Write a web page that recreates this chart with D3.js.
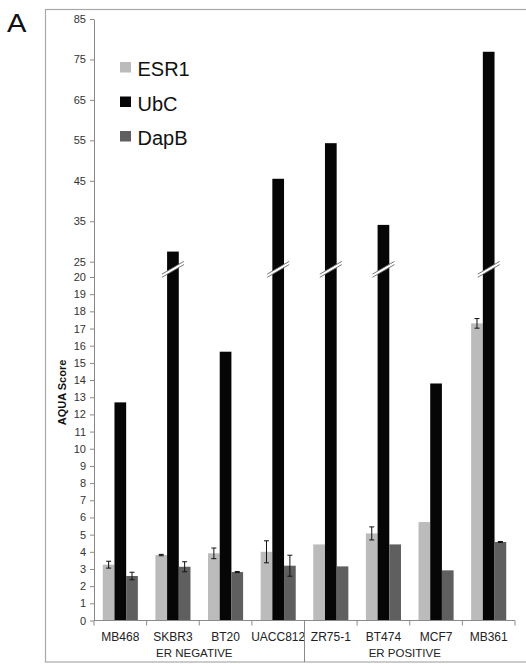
<!DOCTYPE html>
<html>
<head>
<meta charset="utf-8">
<script src="https://cdn.jsdelivr.net/npm/d3@7/dist/d3.min.js"></script>
<style>
  html, body { margin: 0; padding: 0; background: #fff; }
  svg { display: block; font-family: "Liberation Sans", Arial, sans-serif; }
</style>
</head>
<body>
<svg id="chart" width="526" height="664"></svg>
<script>
// Cell lines, grouped by ER status
const cellLines = ["MB468", "SKBR3", "BT20", "UACC812", "ZR75-1", "BT474", "MCF7", "MB361"];
const groups = ["ER NEGATIVE", "ER POSITIVE"];
const groupSizes = [4, 4];

const seriesNames = ["ESR1", "UbC", "DapB"];
const esr1 = [3.25, 3.81, 3.91, 4.0, 4.43, 5.07, 5.73, 17.3];
const esr1Err = [0.2, 0.04, 0.31, 0.64, 0, 0.38, 0, 0.28];
const ubc = [12.7, 27.5, 15.65, 45.5, 54.3, 34.1, 13.8, 76.9];
const ubcErr = [0, 0, 0, 0, 0, 0, 0, 0];
const dapb = [2.59, 3.13, 2.82, 3.19, 3.15, 4.43, 2.92, 4.57];
const dapbErr = [0.22, 0.29, 0.03, 0.61, 0, 0, 0, 0.03];

const yTicks = [0,1,2,3,4,5,6,7,8,9,10,11,12,13,14,15,16,17,18,19,20,25,35,45,55,65,75,85];
const yBreak = [20, 25];   // compressed section of the value axis

const colors = { ESR1: "#bbbbbb", UbC: "#060606", DapB: "#5f5f5f" };

const svg = d3.select("#chart");

// Outer frame and panel letter
svg.append("rect")
  .attr("x", 45.5).attr("y", 9.5).attr("width", 520).attr("height", 652.5)
  .attr("fill", "none").attr("stroke", "#a9a9a9").attr("stroke-width", 1.2);

svg.append("text")
  .attr("x", 7).attr("y", 32)
  .attr("font-size", 26).attr("fill", "#111")
  .attr("transform", "translate(7,0) scale(1.12,1) translate(-7,0)")
  .text("A");

const plot = { left: 94, right: 515, top: 19, bottom: 620.5 };

// Broken value axis: 0–20 at full scale, 20–25 squeezed, 25–85 compressed
const y = d3.scaleLinear()
  .domain([0, yBreak[0], yBreak[1], 85])
  .range([plot.bottom, 277, 261.7, plot.top]);

const x0 = d3.scaleBand().domain(cellLines).range([plot.left, plot.right]).padding(0);
const x1 = d3.scaleBand().domain(seriesNames).range([0, x0.bandwidth()])
  .paddingInner(0).paddingOuter(0.75);

const data = cellLines.map((c, i) => ({
  line: c,
  values: [
    { s: "ESR1", v: esr1[i], e: esr1Err[i] },
    { s: "UbC", v: ubc[i], e: ubcErr[i] },
    { s: "DapB", v: dapb[i], e: dapbErr[i] }
  ]
}));

// Y axis
const yAxis = d3.axisLeft(y).tickValues(yTicks).tickFormat(d3.format("d"))
  .tickSizeInner(4).tickSizeOuter(0).tickPadding(4);
const gy = svg.append("g").attr("transform", `translate(${plot.left},0)`).call(yAxis);
gy.select(".domain").attr("stroke", "#8a8a8a");
gy.selectAll(".tick line").attr("stroke", "#8a8a8a");
gy.selectAll(".tick text").attr("font-size", 11).attr("fill", "#333")
  .attr("font-family", "Liberation Sans, Arial, sans-serif");

svg.append("text")
  .attr("transform", `translate(66,392.5) rotate(-90)`)
  .attr("text-anchor", "middle")
  .attr("font-size", 11).attr("font-weight", "bold").attr("fill", "#111")
  .text("AQUA Score");

// Bars
const gBars = svg.append("g");
const groupG = gBars.selectAll("g.cat").data(data).join("g")
  .attr("class", "cat")
  .attr("transform", d => `translate(${x0(d.line)},0)`);

groupG.selectAll("rect").data(d => d.values).join("rect")
  .attr("x", d => x1(d.s))
  .attr("y", d => y(d.v))
  .attr("width", x1.bandwidth())
  .attr("height", d => y(0) - y(d.v))
  .attr("fill", d => colors[d.s]);

// Error bars
const errs = groupG.selectAll("g.err").data(d => d.values.filter(v => v.e > 0)).join("g")
  .attr("class", "err")
  .attr("stroke", "#111").attr("stroke-width", 1);
errs.append("line")
  .attr("x1", d => x1(d.s) + x1.bandwidth() / 2).attr("x2", d => x1(d.s) + x1.bandwidth() / 2)
  .attr("y1", d => y(d.v + d.e)).attr("y2", d => y(d.v - d.e));
errs.append("line")
  .attr("x1", d => x1(d.s) + x1.bandwidth() / 2 - 2.5).attr("x2", d => x1(d.s) + x1.bandwidth() / 2 + 2.5)
  .attr("y1", d => y(d.v + d.e)).attr("y2", d => y(d.v + d.e));
errs.append("line")
  .attr("x1", d => x1(d.s) + x1.bandwidth() / 2 - 2.5).attr("x2", d => x1(d.s) + x1.bandwidth() / 2 + 2.5)
  .attr("y1", d => y(d.v - d.e)).attr("y2", d => y(d.v - d.e));

// Break marks on bars that run past the axis break
const breakY = y((yBreak[0] + yBreak[1]) / 2);
const broken = data.map(d => d.values.filter(v => v.v > yBreak[1]).map(v => ({ line: d.line, s: v.s })))
  .flat();
const bm = svg.append("g").selectAll("g").data(broken).join("g")
  .attr("transform", d => `translate(${x0(d.line) + x1(d.s) + x1.bandwidth() / 2},${breakY})`);
const half = 11, slope = 0.58, gap = 3.2;
bm.append("path")
  .attr("d", `M${-half},${half * slope - gap / 2} L${half},${-half * slope - gap / 2} L${half},${-half * slope + gap / 2} L${-half},${half * slope + gap / 2} Z`)
  .attr("fill", "#fff");
[-gap / 2, gap / 2].forEach(o => {
  bm.append("line")
    .attr("x1", -half).attr("y1", half * slope + o)
    .attr("x2", half).attr("y2", -half * slope + o)
    .attr("stroke", "#666").attr("stroke-width", 0.9);
});

// X axis
svg.append("line")
  .attr("x1", plot.left).attr("x2", plot.right)
  .attr("y1", plot.bottom).attr("y2", plot.bottom)
  .attr("stroke", "#8a8a8a");
const boundaries = cellLines.map(c => x0(c)).concat([plot.right]);
svg.append("g").selectAll("line").data(boundaries).join("line")
  .attr("x1", d => d).attr("x2", d => d)
  .attr("y1", plot.bottom).attr("y2", plot.bottom + 5)
  .attr("stroke", "#8a8a8a");

svg.append("g").selectAll("text").data(cellLines).join("text")
  .attr("x", d => x0(d) + x0.bandwidth() / 2)
  .attr("y", 640.5)
  .attr("text-anchor", "middle")
  .attr("font-size", 12).attr("fill", "#222")
  .text(d => d);

// Group labels and divider
let start = 0;
groups.forEach((g, i) => {
  const first = cellLines[start];
  const last = cellLines[start + groupSizes[i] - 1];
  const gx0 = x0(first), gx1 = x0(last) + x0.bandwidth();
  svg.append("text")
    .attr("x", (gx0 + gx1) / 2 - 5).attr("y", 656.5)
    .attr("text-anchor", "middle")
    .attr("font-size", 11.5).attr("fill", "#222")
    .text(g);
  if (i > 0) {
    svg.append("line")
      .attr("x1", gx0).attr("x2", gx0)
      .attr("y1", plot.bottom).attr("y2", 662)
      .attr("stroke", "#8a8a8a");
  }
  start += groupSizes[i];
});

// Legend
const legend = svg.append("g").selectAll("g").data(seriesNames).join("g")
  .attr("transform", (d, i) => `translate(120,${62 + i * 34.5})`);
legend.append("rect")
  .attr("width", 11).attr("height", 10.5)
  .attr("fill", d => colors[d]);
legend.append("text")
  .attr("x", 17.5).attr("y", 14)
  .attr("font-size", 20).attr("fill", "#111")
  .text(d => d);
</script>
</body>
</html>
